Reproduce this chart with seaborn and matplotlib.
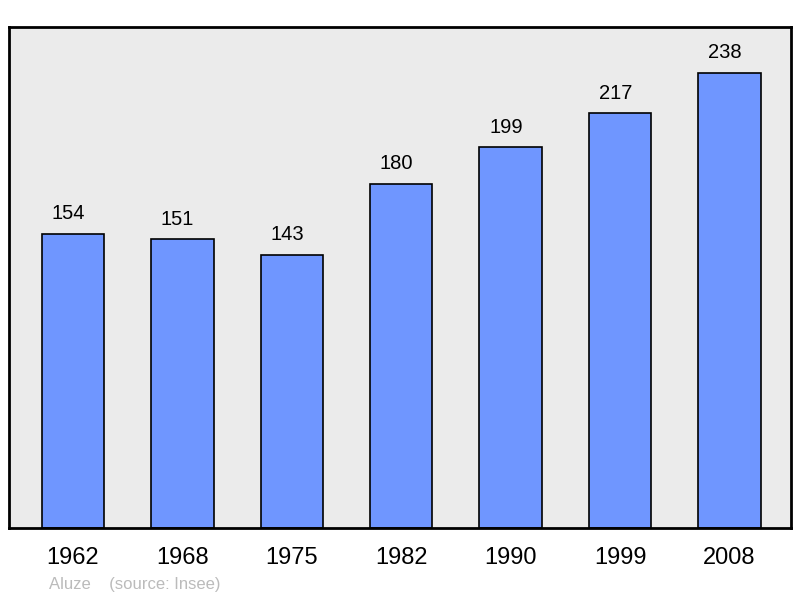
import matplotlib
matplotlib.use("Agg")
import matplotlib.pyplot as plt
import seaborn as sns

# ── Data ──────────────────────────────────────────────────────────────────────
years = ["1962", "1968", "1975", "1982", "1990", "1999", "2008"]
population = [154, 151, 143, 180, 199, 217, 238]

sns.set_style("white")
plt.rcParams["font.family"] = ["Liberation Sans", "DejaVu Sans"]
plt.rcParams["text.color"] = "black"
plt.rcParams["xtick.color"] = "black"

fig = plt.figure(figsize=(8, 5.98), dpi=100)
ax = fig.add_axes([9 / 800, 1 - 528 / 598, 782 / 800, 501 / 598])
ax.set_facecolor("#ebebeb")

sns.barplot(x=years, y=population, color="#6f96ff", saturation=1,
            width=0.57, edgecolor="black", linewidth=1.2, ax=ax)

# value labels sit a bit left of the bar centre, like the original
for i, v in enumerate(population):
    ax.annotate(str(v), (i, v), xytext=(-3.5, 7.5), textcoords="offset points",
                ha="center", va="bottom", fontsize=14.5, color="black")

ax.set_xlim(-0.585, 6.562)
ax.set_ylim(0, 262)
ax.set_yticks([])
ax.tick_params(axis="x", length=0, pad=13.5, labelsize=17, labelcolor="black")
ax.set_xlabel("")
ax.set_ylabel("")
for s in ax.spines.values():
    s.set_visible(True)
    s.set_color("black")
    s.set_linewidth(2)

fig.text(49 / 800, 1 - 584 / 598, "Aluze    (source: Insee)",
         color="#bbbbbb", fontsize=12, va="center", ha="left")

fig.savefig("out.png", dpi=100, facecolor="white")
